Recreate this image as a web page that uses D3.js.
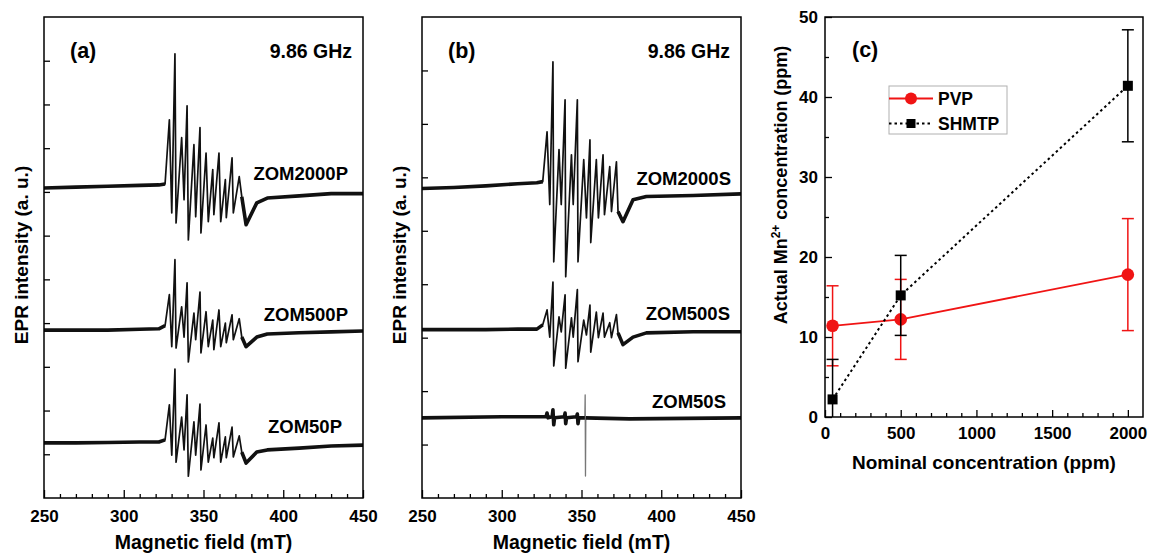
<!DOCTYPE html>
<html>
<head>
<meta charset="utf-8">
<script src="https://cdn.jsdelivr.net/npm/d3@7"></script>
<style>
  html, body { margin: 0; padding: 0; background: #fff; }
  svg { display: block; font-family: "Liberation Sans", Arial, sans-serif; font-weight: bold; }
</style>
</head>
<body>
<svg id="chart" width="1151" height="553"></svg>
<script>
// EPR spectra, panel (a): magnetic field (mT) and intensity (a.u., offset per sample)
const fieldA = [250, 270, 290, 310, 322, 325.9, 328.6, 330.1, 332.1, 332.8, 336.3, 337.8, 339.7, 340.5, 344.0, 345.1, 347.8, 348.4,
  351.6, 353.0, 355.8, 356.5, 359.7, 360.8, 363.7, 364.3, 367.9, 368.7, 372.4, 374.0, 376.7, 383.4, 390, 410, 430, 450];
const zom2000P = [7.09, 7.11, 7.13, 7.15, 7.16, 7.18, 8.65, 6.52, 10.16, 6.29, 8.24, 6.82, 8.97, 5.90, 8.08, 6.43, 8.47, 6.06,
  7.89, 6.32, 7.51, 6.48, 7.89, 6.32, 7.28, 6.41, 7.78, 6.52, 7.35, 6.89, 6.25, 6.75, 6.86, 6.91, 6.96, 6.96];
const zom500P = [3.84, 3.84, 3.84, 3.86, 3.87, 3.94, 4.65, 3.46, 5.45, 3.43, 4.37, 3.68, 4.92, 3.11, 4.23, 3.62, 4.71, 3.32,
  4.26, 3.46, 4.07, 3.39, 4.30, 3.46, 4.00, 3.55, 4.19, 3.62, 4.10, 3.68, 3.46, 3.68, 3.75, 3.78, 3.80, 3.82];
const zom50P = [1.26, 1.26, 1.27, 1.28, 1.28, 1.33, 2.13, 0.98, 2.95, 0.82, 1.85, 1.10, 2.36, 0.50, 1.74, 0.98, 2.15, 0.64,
  1.67, 0.82, 1.37, 0.92, 1.72, 0.82, 1.40, 0.92, 1.62, 0.94, 1.42, 1.05, 0.80, 1.05, 1.10, 1.14, 1.19, 1.21];

// panel (b)
const fieldB = [250, 270, 290, 310, 322, 325.7, 328.4, 330.1, 332.1, 332.6, 335.9, 337.3, 339.7, 340.1, 343.7, 344.8, 347.4, 347.8,
  351.4, 353.1, 355.3, 355.8, 359.3, 360.6, 363.5, 364.4, 367.7, 368.8, 371.9, 372.9, 376.0, 382.3, 390.7, 420, 450];
const zom2000S = [5.79, 5.81, 5.84, 5.88, 5.90, 5.92, 6.85, 5.49, 8.16, 4.42, 6.52, 5.49, 7.45, 4.14, 6.42, 5.49, 7.45, 4.42,
  6.33, 5.24, 6.70, 4.78, 6.33, 5.24, 6.42, 5.30, 6.20, 5.36, 6.29, 5.36, 5.17, 5.58, 5.64, 5.66, 5.69];
const zom500S = [3.15, 3.15, 3.15, 3.16, 3.16, 3.24, 3.52, 3.01, 4.04, 2.47, 3.39, 3.11, 3.80, 2.43, 3.37, 3.01, 3.90, 2.55,
  3.33, 3.05, 3.61, 2.73, 3.48, 3.00, 3.46, 3.01, 3.28, 3.00, 3.43, 3.09, 2.87, 3.01, 3.09, 3.11, 3.11];
const field50S = [250, 300, 325, 327.8, 328.4, 329.0, 331.6, 332.1, 332.6, 333.1, 339.2, 339.7, 340.1, 340.6,
  346.9, 347.4, 347.8, 348.3, 352.1, 352.3, 352.5, 352.7, 380, 450];
const zom50S = [1.50, 1.52, 1.52, 1.52, 1.59, 1.50, 1.52, 1.65, 1.37, 1.50, 1.52, 1.59, 1.39, 1.50,
  1.52, 1.57, 1.39, 1.50, 1.50, 1.93, 0.41, 1.50, 1.48, 1.50];

// panel (c): actual vs nominal Mn2+ concentration (ppm)
const nominal = [50, 500, 2000];
const pvp = [11.4, 12.2, 17.8];
const pvpErr = [5.0, 5.0, 7.0];
const shmtp = [2.2, 15.2, 41.4];
const shmtpErr = [5.0, 5.0, 7.0];

const fieldTicks = [250, 300, 350, 400, 450];
const nominalTicks = [0, 500, 1000, 1500, 2000];
const actualTicks = [0, 10, 20, 30, 40, 50];

const svg = d3.select("#chart");
const FONT = "Liberation Sans, Arial, sans-serif";

function styleAxis(sel, size) {
  sel.attr("font-family", FONT).attr("font-size", size).attr("font-weight", "bold");
  sel.select(".domain").remove();
  sel.selectAll("line").attr("stroke-width", 1.3);
  sel.selectAll("text").attr("fill", "#000");
}

function drawEPR(cfg) {
  const { left, right, top, bottom, yMax, spectra, tag, noisy, clipId } = cfg;
  const x = d3.scaleLinear().domain([250, 450]).range([left, right]);
  const y = d3.scaleLinear().domain([0, yMax]).range([bottom, top]);
  const g = svg.append("g");

  g.append("clipPath").attr("id", clipId)
    .append("rect").attr("x", left).attr("y", top).attr("width", right - left).attr("height", bottom - top);

  // bottom axis: minor every 10 mT, major every 50 mT, ticks pointing inward
  g.append("g").attr("transform", `translate(0,${bottom})`)
    .call(d3.axisBottom(x).tickValues(d3.range(260, 450, 10).filter((v) => v % 50)).tickSize(-4).tickFormat(""))
    .call((s) => styleAxis(s, 17));
  g.append("g").attr("transform", `translate(0,${bottom})`)
    .call(d3.axisBottom(x).tickValues(fieldTicks).tickSize(-8).tickPadding(12).tickFormat(d3.format("d")))
    .call((s) => styleAxis(s, 17));
  g.append("g").attr("transform", `translate(${left},0)`)
    .call(d3.axisLeft(y).tickValues(d3.range(1, yMax)).tickSize(-6).tickFormat(""))
    .call((s) => styleAxis(s, 17));

  const line = d3.line().x((d) => x(d[0])).y((d) => y(d[1]));
  const plot = g.append("g").attr("clip-path", `url(#${clipId})`);

  spectra.forEach((sp) => {
    const pts = d3.zip(sp.field, sp.values);
    plot.append("path").datum(pts)
      .attr("d", line).attr("fill", "none").attr("stroke", sp.thinColor || "#111")
      .attr("stroke-width", sp.thinColor ? 1.3 : 1.7).attr("stroke-linejoin", "round");
    (sp.noisy || noisy).forEach((r) => {
      plot.append("path").datum(pts.filter((p) => p[0] >= r[0] && p[0] <= r[1]))
        .attr("d", line).attr("fill", "none").attr("stroke", "#111")
        .attr("stroke-width", 3.6).attr("stroke-linejoin", "round");
    });
    g.append("text").attr("x", sp.labelX).attr("y", sp.labelY)
      .attr("text-anchor", "end").attr("font-size", 18.5).text(sp.name);
  });

  g.append("rect").attr("x", left).attr("y", top).attr("width", right - left).attr("height", bottom - top)
    .attr("fill", "none").attr("stroke", "#000").attr("stroke-width", 1.5);

  g.append("text").attr("x", left + 26).attr("y", 58).attr("font-size", 21.5).text(tag);
  g.append("text").attr("x", right - 11).attr("y", 58).attr("text-anchor", "end").attr("font-size", 19.5).text("9.86 GHz");

  g.append("text").attr("x", (left + right) / 2).attr("y", 549).attr("text-anchor", "middle")
    .attr("font-size", 19.5).text("Magnetic field (mT)");
  g.append("text").attr("transform", `translate(${left - 16},255) rotate(-90)`)
    .attr("text-anchor", "middle").attr("font-size", 19).text("EPR intensity (a. u.)");
}

drawEPR({
  left: 44, right: 363, top: 17, bottom: 498, yMax: 11, tag: "(a)", clipId: "clipA",
  noisy: [[250, 326], [374, 450]],
  spectra: [
    { name: "ZOM2000P", field: fieldA, values: zom2000P, labelX: 348, labelY: 180 },
    { name: "ZOM500P", field: fieldA, values: zom500P, labelX: 348, labelY: 321 },
    { name: "ZOM50P", field: fieldA, values: zom50P, labelX: 342, labelY: 433 }
  ]
});

drawEPR({
  left: 422, right: 741, top: 17, bottom: 498, yMax: 9, tag: "(b)", clipId: "clipB",
  noisy: [[250, 326], [372.5, 450]],
  spectra: [
    { name: "ZOM2000S", field: fieldB, values: zom2000S, labelX: 731, labelY: 185 },
    { name: "ZOM500S", field: fieldB, values: zom500S, labelX: 730, labelY: 320 },
    { name: "ZOM50S", field: field50S, values: zom50S, labelX: 726, labelY: 408, thinColor: "#777",
      noisy: [[250, 352.1], [352.7, 450]] }
  ]
});

// ---- panel (c) ----
(function () {
  const left = 825, right = 1143, top = 17, bottom = 417;
  const x = d3.scaleLinear().domain([0, 2100]).range([left, right]);
  const y = d3.scaleLinear().domain([0, 50]).range([bottom, top]);
  const g = svg.append("g");

  g.append("clipPath").attr("id", "clipC")
    .append("rect").attr("x", left).attr("y", top).attr("width", right - left).attr("height", bottom - top);

  g.append("g").attr("transform", `translate(0,${bottom})`)
    .call(d3.axisBottom(x).tickValues(d3.range(100, 2100, 100).filter((v) => v % 500)).tickSize(-4).tickFormat(""))
    .call((s) => styleAxis(s, 17));
  g.append("g").attr("transform", `translate(0,${bottom})`)
    .call(d3.axisBottom(x).tickValues(nominalTicks).tickSize(-7).tickPadding(10).tickFormat(d3.format("d")))
    .call((s) => styleAxis(s, 17));
  g.append("g").attr("transform", `translate(${left},0)`)
    .call(d3.axisLeft(y).tickValues(d3.range(5, 50, 10)).tickSize(-4).tickFormat(""))
    .call((s) => styleAxis(s, 17));
  g.append("g").attr("transform", `translate(${left},0)`)
    .call(d3.axisLeft(y).tickValues(actualTicks).tickSize(-7).tickPadding(7).tickFormat(d3.format("d")))
    .call((s) => styleAxis(s, 17));

  const plot = g.append("g").attr("clip-path", "url(#clipC)");
  const line = d3.line().x((d) => x(d[0])).y((d) => y(d[1]));

  const series = [
    { name: "PVP", values: pvp, err: pvpErr, color: "#f01414", dash: null, width: 1.8, shape: "circle" },
    { name: "SHMTP", values: shmtp, err: shmtpErr, color: "#000", dash: "2.5,3", width: 2, shape: "square" }
  ];

  series.forEach((s) => {
    const pts = d3.zip(nominal, s.values, s.err);
    plot.append("path").datum(pts).attr("d", line).attr("fill", "none")
      .attr("stroke", s.color).attr("stroke-width", s.width).attr("stroke-dasharray", s.dash);
    const eb = plot.append("g").attr("stroke", s.color).attr("stroke-width", 1.5);
    pts.forEach((p) => {
      const cx = x(p[0]), y1 = y(p[1] - p[2]), y2 = y(p[1] + p[2]);
      eb.append("line").attr("x1", cx).attr("x2", cx).attr("y1", y1).attr("y2", y2);
      eb.append("line").attr("x1", cx - 6).attr("x2", cx + 6).attr("y1", y1).attr("y2", y1);
      eb.append("line").attr("x1", cx - 6).attr("x2", cx + 6).attr("y1", y2).attr("y2", y2);
    });
    if (s.shape === "circle") {
      plot.append("g").selectAll("circle").data(pts).join("circle")
        .attr("cx", (d) => x(d[0])).attr("cy", (d) => y(d[1])).attr("r", 6.3).attr("fill", s.color);
    } else {
      plot.append("g").selectAll("rect").data(pts).join("rect")
        .attr("x", (d) => x(d[0]) - 5).attr("y", (d) => y(d[1]) - 5)
        .attr("width", 10).attr("height", 10).attr("fill", s.color);
    }
  });

  // legend
  const lg = g.append("g");
  lg.append("rect").attr("x", 889).attr("y", 86).attr("width", 118).attr("height", 48)
    .attr("fill", "#fff").attr("stroke", "#b0b0b0").attr("stroke-width", 1);
  series.forEach((s, i) => {
    const ly = 98.5 + i * 25;
    lg.append("line").attr("x1", 889).attr("x2", 933).attr("y1", ly).attr("y2", ly)
      .attr("stroke", s.color).attr("stroke-width", s.width).attr("stroke-dasharray", s.dash);
    if (s.shape === "circle") {
      lg.append("circle").attr("cx", 911).attr("cy", ly).attr("r", 6).attr("fill", s.color);
    } else {
      lg.append("rect").attr("x", 906.5).attr("y", ly - 4.5).attr("width", 9).attr("height", 9).attr("fill", s.color);
    }
    lg.append("text").attr("x", 938).attr("y", ly + 6.5).attr("font-size", 17.5).text(s.name);
  });

  g.append("rect").attr("x", left).attr("y", top).attr("width", right - left).attr("height", bottom - top)
    .attr("fill", "none").attr("stroke", "#000").attr("stroke-width", 1.5);

  g.append("text").attr("x", 852).attr("y", 57).attr("font-size", 21.5).text("(c)");
  g.append("text").attr("x", (left + right) / 2).attr("y", 469).attr("text-anchor", "middle")
    .attr("font-size", 19).text("Nominal concentration (ppm)");
  const yl = g.append("text").attr("transform", "translate(787,185) rotate(-90)")
    .attr("text-anchor", "middle").attr("font-size", 18);
  yl.append("tspan").text("Actual Mn");
  yl.append("tspan").attr("font-size", 12).attr("dy", -7).text("2+");
  yl.append("tspan").attr("dy", 7).text(" concentration (ppm)");
})();
</script>
</body>
</html>
